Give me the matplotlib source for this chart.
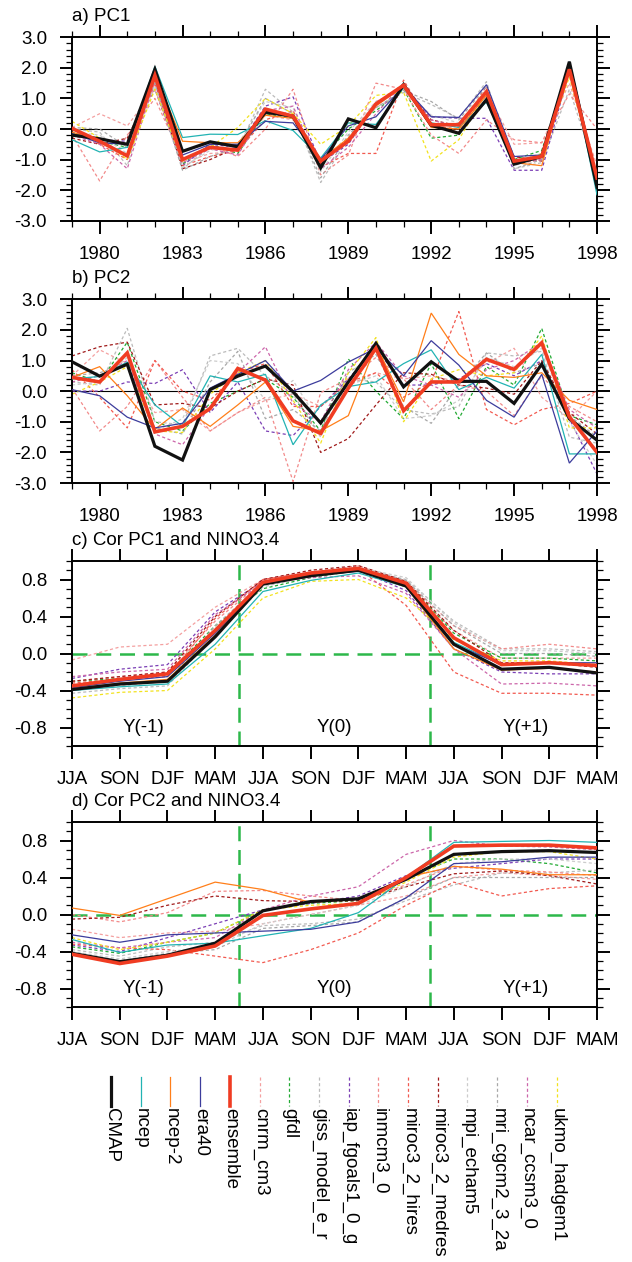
import matplotlib
matplotlib.use("Agg")
import matplotlib.pyplot as plt
from matplotlib.ticker import MultipleLocator, FixedLocator
import numpy as np

plt.rcParams['font.family'] = ['Liberation Sans', 'DejaVu Sans']

# ---------------- data ----------------
years = list(range(1979, 1999))
year_labels = [1980, 1983, 1986, 1989, 1992, 1995, 1998]
seasons = ["JJA", "SON", "DJF", "MAM", "JJA", "SON", "DJF", "MAM", "JJA", "SON", "DJF", "MAM"]
period_labels = ["Y(-1)", "Y(0)", "Y(+1)"]

names = ["CMAP", "ncep", "ncep-2", "era40", "ensemble", "cnrm_cm3", "gfdl",
         "giss_model_e_r", "iap_fgoals1_0_g", "inmcm3_0", "miroc3_2_hires",
         "miroc3_2_medres", "mpi_echam5", "mri_cgcm2_3_2a", "ncar_ccsm3_0",
         "ukmo_hadgem1"]

# panel a: PC1
pc1_cmap = [-0.2, -0.32, -0.5, 1.95, -0.73, -0.42, -0.58, 0.55, 0.42, -1.27, 0.33, 0.04, 1.45, 0.12, -0.14, 0.96, -1.15, -0.9, 2.2, -1.9]
pc1_ncep = [-0.35, -0.75, -0.6, 2.05, -0.28, -0.17, -0.18, 0.27, -0.05, -0.95, 0.2, 0.15, 1.35, 0.2, 0.05, 0.88, -1.05, -0.85, 2.2, -2.15]
pc1_ncep2 = [-0.1, -0.4, -0.9, 1.8, -0.4, -0.45, -0.45, 0.45, 0.35, -1.0, -0.3, 0.75, 1.4, 0.05, 0.0, 1.1, -1.1, -1.2, 2.1, -1.7]
pc1_era40 = [-0.15, -0.45, -0.5, 1.9, -0.85, -0.5, -0.5, 0.25, 0.2, -1.0, 0.1, 0.4, 1.4, 0.4, 0.38, 1.45, -0.9, -0.85, 2.2, -1.6]
pc1_ens = [0.02, -0.4, -0.88, 1.75, -1.0, -0.6, -0.69, 0.65, 0.42, -1.05, -0.4, 0.82, 1.43, 0.14, 0.14, 1.22, -1.05, -0.9, 1.95, -1.6]
pc1_cnrm = [0.05, 0.5, 0.1, 1.3, -1.1, -0.8, -0.75, 0.45, 0.3, -1.1, -0.3, 0.9, 1.3, 0.2, -0.1, 1.2, -0.5, -0.45, 1.5, -1.2]
pc1_gfdl = [-0.1, -0.4, -0.6, 1.6, -1.15, -0.5, -0.8, 0.5, 0.35, -1.0, 0.0, 0.6, 1.3, -0.3, -0.2, 1.0, -1.0, -0.7, 2.0, -1.7]
pc1_giss = [0.0, -0.1, -1.2, 1.8, -1.3, -0.6, -0.7, 1.3, 0.55, -1.75, -0.3, 0.7, 1.2, 0.8, 0.35, 1.55, -1.3, -1.1, 1.3, -1.5]
pc1_iap = [-0.1, -0.35, -0.4, 1.3, -1.2, -0.5, -0.6, 0.75, 1.05, -1.1, -0.5, 0.85, 1.3, 0.4, 0.35, 0.35, -1.35, -1.35, 1.9, -1.8]
pc1_inm = [-0.2, -1.7, -0.2, 1.0, -1.0, -0.55, -0.9, 0.0, 1.3, -1.5, -0.85, 1.5, 1.3, -0.2, -0.8, 0.3, -0.35, -0.45, 1.15, 0.0]
pc1_hires = [0.0, -0.5, -1.0, 1.5, -1.2, -0.9, -0.7, 0.3, 0.6, -1.25, -0.8, -0.8, 1.6, 0.1, 0.0, 1.4, -1.15, -1.0, 1.9, -1.5]
pc1_medres = [-0.3, -0.5, -0.3, 1.6, -1.3, -1.0, -0.6, 0.5, 0.45, -1.15, -0.3, 0.8, 1.4, 0.3, 0.1, 1.2, -0.9, -1.05, 2.0, -1.6]
pc1_mpi = [-0.1, -0.2, -0.8, 1.4, -1.25, -0.7, -0.5, 0.9, 0.7, -1.4, -0.1, 0.9, 1.3, 0.45, 0.2, 1.3, -1.2, -0.9, 1.8, -1.7]
pc1_mri = [0.05, 0.0, -0.6, 1.5, -1.35, -0.9, -0.6, 1.0, 0.5, -1.6, -0.2, 0.7, 1.25, 0.9, 0.3, 1.4, -1.3, -1.0, 2.1, -1.8]
pc1_ncar = [-0.2, -0.5, -1.3, 1.6, -1.1, -0.65, -0.85, 0.6, 0.75, -1.3, -0.6, 0.5, 1.5, 0.3, 0.05, 1.1, -1.1, -1.0, 2.0, -1.9]
pc1_ukmo = [0.25, -0.3, -1.0, 1.3, -1.05, -0.6, 0.05, 1.0, 0.5, -0.5, 0.1, 1.1, 1.2, -1.05, -0.35, 1.2, -1.1, -0.8, 1.7, -1.6]

# panel b: PC2
pc2_cmap = [0.96, 0.49, 0.88, -1.8, -2.25, 0.05, 0.49, 0.82, -0.02, -1.04, 0.3, 1.56, 0.14, 0.96, 0.32, 0.32, -0.4, 0.88, -0.9, -1.6]
pc2_ncep = [0.4, 0.48, 0.95, -0.45, -1.15, 0.5, 0.3, 0.55, -1.75, -0.45, 0.15, 0.3, 0.9, 1.35, 0.05, 0.45, 0.1, 1.2, -2.05, -2.05]
pc2_ncep2 = [0.45, 0.8, -0.15, -1.25, -0.55, -1.15, -0.45, 0.3, -1.15, -1.3, -0.8, 1.5, -0.35, 2.55, 1.2, 0.5, 0.45, 0.6, -0.3, -0.6]
pc2_era40 = [0.05, -0.15, -0.85, -1.2, -1.05, 0.1, 0.55, 1.0, 0.0, 0.35, 0.95, 1.4, 0.5, 1.65, 0.85, -0.3, -0.85, 0.55, -2.35, -1.3]
pc2_ens = [0.45, 0.3, 1.25, -1.33, -1.15, -0.57, 0.74, 0.36, -0.97, -1.38, 0.1, 1.4, -0.64, 0.3, 0.3, 1.04, 0.71, 1.58, -0.84, -2.0]
pc2_cnrm = [0.5, 1.35, 0.9, -0.7, -0.6, -1.3, -0.7, -0.3, -0.1, -0.5, 0.2, 0.6, 0.4, 0.5, 0.3, 0.9, 1.4, -0.2, -0.9, 0.0]
pc2_gfdl = [0.6, 0.3, 1.6, -1.0, -1.3, -0.4, 0.0, 0.4, -0.2, -1.3, 1.05, 0.0, -0.9, 0.9, -0.9, 0.8, 0.2, 2.05, -0.8, -1.1]
pc2_giss = [0.3, 0.2, 2.05, -1.0, -1.1, 1.15, 1.4, 0.5, -0.1, -1.5, 0.4, 0.3, -0.6, -0.75, -0.5, 1.25, 1.15, 1.3, -1.5, -1.7]
pc2_iap = [0.0, 0.0, 0.3, 0.25, 0.7, -0.7, 0.3, -1.3, -1.45, -0.5, 0.4, 1.4, 0.2, 0.2, 0.4, 0.9, 0.5, 1.0, -0.9, -2.7]
pc2_inm = [0.1, -1.3, -0.5, 1.0, -0.2, -1.3, -0.7, -0.2, -2.95, -0.05, 0.4, 1.1, 0.4, -0.6, 0.2, 0.0, -0.8, 0.5, -0.5, -1.0]
pc2_hires = [0.7, -0.2, -1.2, 1.0, 0.0, -0.3, 0.6, 0.9, -0.5, -0.5, 0.3, 0.6, -0.2, 0.3, 2.6, -0.6, -1.1, -0.6, -0.4, 0.0]
pc2_medres = [1.15, 1.45, 1.6, -0.45, -0.4, -0.55, 0.0, 0.4, 0.2, -2.0, -1.55, -0.45, 0.6, 0.55, 0.2, 0.1, -0.1, 1.0, -0.7, -1.4]
pc2_mpi = [0.2, 0.3, 1.1, -1.3, -0.9, 1.0, 0.9, -0.3, 0.35, -1.1, 0.2, 0.5, -0.9, -0.8, -0.3, 1.1, 0.8, 1.4, -1.0, -2.4]
pc2_mri = [0.5, 0.6, 0.9, -1.2, -1.4, 0.3, 1.3, -0.9, -0.6, -1.3, 0.6, 1.2, -0.5, -1.05, 0.2, 1.25, 0.6, 0.9, -0.8, -1.5]
pc2_ncar = [0.3, 0.5, 1.0, -1.4, -1.75, -0.5, 0.6, 1.45, -0.4, -1.0, 0.7, 1.6, 0.5, 0.2, -0.2, 0.7, 1.0, 1.6, -0.6, -1.2]
pc2_ukmo = [-0.1, 0.3, 0.8, -1.3, -1.35, -0.1, 0.6, 1.0, -0.3, -1.7, 0.6, 1.75, -1.0, 0.4, 0.7, 0.5, 0.6, 1.8, -1.2, -1.2]

# panel c: Cor PC1 and NINO3.4
c_cmap = [-0.39, -0.33, -0.3, 0.18, 0.75, 0.84, 0.9, 0.73, 0.1, -0.17, -0.15, -0.21]
c_ncep = [-0.4, -0.36, -0.33, 0.1, 0.67, 0.79, 0.87, 0.72, 0.12, -0.12, -0.1, -0.13]
c_ncep2 = [-0.38, -0.32, -0.28, 0.2, 0.75, 0.85, 0.9, 0.72, 0.05, -0.18, -0.16, -0.2]
c_era40 = [-0.37, -0.3, -0.25, 0.22, 0.76, 0.84, 0.89, 0.74, 0.1, -0.12, -0.1, -0.1]
c_ens = [-0.35, -0.28, -0.22, 0.25, 0.77, 0.87, 0.92, 0.76, 0.17, -0.12, -0.1, -0.13]
c_cnrm = [-0.07, 0.07, 0.1, 0.5, 0.8, 0.88, 0.93, 0.75, 0.25, -0.05, -0.05, -0.05]
c_gfdl = [-0.3, -0.27, -0.22, 0.3, 0.7, 0.82, 0.9, 0.78, 0.22, -0.05, -0.05, -0.08]
c_giss = [-0.43, -0.38, -0.35, 0.2, 0.72, 0.84, 0.92, 0.8, 0.35, 0.05, 0.05, 0.02]
c_iap = [-0.27, -0.17, -0.12, 0.45, 0.78, 0.86, 0.9, 0.68, 0.05, -0.2, -0.22, -0.22]
c_inm = [-0.3, -0.25, -0.2, 0.35, 0.78, 0.87, 0.95, 0.78, 0.3, 0.05, 0.1, 0.05]
c_hires = [-0.32, -0.28, -0.25, 0.38, 0.8, 0.88, 0.92, 0.52, -0.2, -0.43, -0.43, -0.45]
c_medres = [-0.3, -0.25, -0.2, 0.4, 0.8, 0.9, 0.95, 0.78, 0.25, -0.1, -0.1, -0.15]
c_mpi = [-0.4, -0.35, -0.3, 0.25, 0.75, 0.85, 0.93, 0.82, 0.33, 0.03, 0.03, 0.0]
c_mri = [-0.38, -0.33, -0.3, 0.3, 0.76, 0.86, 0.92, 0.79, 0.3, 0.0, 0.0, -0.03]
c_ncar = [-0.25, -0.2, -0.17, 0.42, 0.76, 0.82, 0.84, 0.65, 0.05, -0.33, -0.32, -0.35]
c_ukmo = [-0.48, -0.42, -0.4, 0.05, 0.6, 0.78, 0.8, 0.6, 0.15, -0.08, -0.08, -0.12]

# panel d: Cor PC2 and NINO3.4
d_cmap = [-0.42, -0.51, -0.44, -0.31, 0.04, 0.14, 0.17, 0.38, 0.65, 0.68, 0.69, 0.67]
d_ncep = [-0.27, -0.41, -0.33, -0.31, -0.23, -0.15, 0.02, 0.4, 0.78, 0.79, 0.8, 0.78]
d_ncep2 = [0.07, -0.01, 0.17, 0.35, 0.27, 0.13, 0.17, 0.4, 0.52, 0.49, 0.43, 0.43]
d_era40 = [-0.22, -0.3, -0.22, -0.2, -0.18, -0.16, -0.08, 0.18, 0.55, 0.57, 0.62, 0.62]
d_ens = [-0.43, -0.53, -0.45, -0.34, -0.01, 0.06, 0.12, 0.4, 0.74, 0.75, 0.75, 0.72]
d_cnrm = [-0.16, -0.25, -0.2, -0.18, -0.1, 0.0, 0.1, 0.2, 0.4, 0.45, 0.42, 0.38]
d_gfdl = [-0.35, -0.42, -0.3, -0.2, 0.05, 0.12, 0.15, 0.4, 0.6, 0.6, 0.55, 0.45]
d_giss = [-0.38, -0.45, -0.35, -0.3, -0.12, -0.1, -0.05, 0.15, 0.32, 0.45, 0.45, 0.48]
d_iap = [-0.33, -0.4, -0.25, -0.1, 0.05, 0.12, 0.2, 0.42, 0.5, 0.55, 0.6, 0.6]
d_inm = [0.0, -0.08, 0.02, 0.25, 0.26, 0.2, 0.15, 0.32, 0.52, 0.48, 0.46, 0.42]
d_hires = [-0.32, -0.36, -0.38, -0.45, -0.52, -0.38, -0.2, 0.1, 0.35, 0.2, 0.28, 0.31]
d_medres = [-0.05, -0.03, 0.1, 0.2, 0.15, 0.14, 0.15, 0.3, 0.44, 0.47, 0.42, 0.33]
d_mpi = [-0.4, -0.48, -0.4, -0.35, -0.1, 0.0, 0.1, 0.3, 0.55, 0.6, 0.6, 0.55]
d_mri = [-0.42, -0.5, -0.42, -0.38, -0.15, -0.12, -0.08, 0.18, 0.4, 0.4, 0.4, 0.4]
d_ncar = [-0.3, -0.36, -0.3, -0.25, 0.05, 0.2, 0.3, 0.65, 0.8, 0.74, 0.73, 0.7]
d_ukmo = [-0.25, -0.38, -0.3, -0.2, 0.05, 0.1, 0.12, 0.35, 0.62, 0.68, 0.68, 0.6]

# ---------------- styles ----------------
colors = {
    "CMAP": "#111111", "ncep": "#22B3B3", "ncep-2": "#FF7F1A", "era40": "#3C3C9C",
    "ensemble": "#F03C22", "cnrm_cm3": "#F4A0A0", "gfdl": "#22AA33",
    "giss_model_e_r": "#BBBBBB", "iap_fgoals1_0_g": "#7B3FB5", "inmcm3_0": "#F28A8A",
    "miroc3_2_hires": "#F25A50", "miroc3_2_medres": "#A01A1A", "mpi_echam5": "#CCCCCC",
    "mri_cgcm2_3_2a": "#A8A8A8", "ncar_ccsm3_0": "#CC66AA", "ukmo_hadgem1": "#F2E21E",
}
solid_names = ["CMAP", "ncep", "ncep-2", "era40", "ensemble"]
lws = {"CMAP": 2.3, "ensemble": 2.6}
green = "#2DB84A"

panel_a = [pc1_cmap, pc1_ncep, pc1_ncep2, pc1_era40, pc1_ens, pc1_cnrm, pc1_gfdl, pc1_giss, pc1_iap,
           pc1_inm, pc1_hires, pc1_medres, pc1_mpi, pc1_mri, pc1_ncar, pc1_ukmo]
panel_b = [pc2_cmap, pc2_ncep, pc2_ncep2, pc2_era40, pc2_ens, pc2_cnrm, pc2_gfdl, pc2_giss, pc2_iap,
           pc2_inm, pc2_hires, pc2_medres, pc2_mpi, pc2_mri, pc2_ncar, pc2_ukmo]
panel_c = [c_cmap, c_ncep, c_ncep2, c_era40, c_ens, c_cnrm, c_gfdl, c_giss, c_iap,
           c_inm, c_hires, c_medres, c_mpi, c_mri, c_ncar, c_ukmo]
panel_d = [d_cmap, d_ncep, d_ncep2, d_era40, d_ens, d_cnrm, d_gfdl, d_giss, d_iap,
           d_inm, d_hires, d_medres, d_mpi, d_mri, d_ncar, d_ukmo]

W, H = 632, 1262
fig = plt.figure(figsize=(W / 100, H / 100), dpi=100)
FS = 13.5


def rect(top_px, bot_px, left_px=72, right_px=597):
    return [left_px / W, 1 - bot_px / H, (right_px - left_px) / W, (bot_px - top_px) / H]


def draw_series(ax, x, series):
    order = list(range(5, 16)) + [1, 2, 3, 0, 4]
    for i in order:
        nm = names[i]
        if nm in solid_names:
            ax.plot(x, series[i], color=colors[nm], lw=lws.get(nm, 0.9), solid_joinstyle='miter',
                    zorder=3 + (i == 0) + 2 * (i == 4))
        else:
            ax.plot(x, series[i], color=colors[nm], lw=0.9, ls=(0, (2.5, 2.0)), zorder=2)


def style_axes(ax):
    for s in ax.spines.values():
        s.set_linewidth(1.4)
    ax.tick_params(which='both', direction='out', top=True, right=True,
                   labeltop=False, labelright=False, labelsize=FS, pad=9)
    ax.tick_params(which='major', length=9, width=1.4)
    ax.tick_params(which='minor', length=4.5, width=0.9)


def title(ax, txt):
    ax.annotate(txt, xy=(0, 1), xycoords='axes fraction', xytext=(0, 11.5),
                textcoords='offset points', ha='left', va='baseline', fontsize=FS)


# panels a, b
for series, tl, (t, b) in [(panel_a, "a) PC1", (37.3, 220.7)), (panel_b, "b) PC2", (299.3, 483.0))]:
    ax = fig.add_axes(rect(t, b))
    draw_series(ax, years, series)
    ax.axhline(0, color='black', lw=0.8, zorder=1)
    ax.set_xlim(years[0], years[-1])
    ax.set_ylim(-3, 3)
    ax.xaxis.set_major_locator(FixedLocator(year_labels))
    ax.set_xticklabels([str(y) for y in year_labels])
    ax.xaxis.set_minor_locator(FixedLocator(years))
    ax.yaxis.set_major_locator(MultipleLocator(1.0))
    ax.yaxis.set_minor_locator(MultipleLocator(0.2))
    ax.yaxis.set_major_formatter(matplotlib.ticker.FormatStrFormatter('%.1f'))
    style_axes(ax)
    title(ax, tl)

# panels c, d
xs = list(range(len(seasons)))
for series, tl, (t, b) in [(panel_c, "c) Cor PC1 and NINO3.4", (561.0, 746.0)),
                           (panel_d, "d) Cor PC2 and NINO3.4", (822.0, 1007.0))]:
    ax = fig.add_axes(rect(t, b))
    draw_series(ax, xs, series)
    ax.axhline(0, color=green, lw=1.8, ls=(0, (6, 3.5)), zorder=1)
    for xv in (3.5, 7.5):
        ax.axvline(xv, color=green, lw=1.8, ls=(0, (6, 3.5)), zorder=1)
    for lab, xv in zip(period_labels, (1.5, 5.5, 9.5)):
        ax.text(xv, -0.8, lab, ha='center', va='center', fontsize=FS)
    ax.set_xlim(0, 11)
    ax.set_ylim(-1, 1)
    ax.set_xticks(xs)
    ax.set_xticklabels(seasons)
    ax.yaxis.set_major_locator(FixedLocator([-0.8, -0.4, 0.0, 0.4, 0.8]))
    ax.yaxis.set_minor_locator(MultipleLocator(0.1))
    ax.yaxis.set_major_formatter(matplotlib.ticker.FormatStrFormatter('%.1f'))
    style_axes(ax)
    title(ax, tl)

# legend
lax = fig.add_axes([0, 0, 1, 1], facecolor='none')
lax.set_xlim(0, W)
lax.set_ylim(H, 0)
lax.axis('off')
for i, nm in enumerate(names):
    xl = 111 + 29.7 * i
    if nm in solid_names:
        lax.plot([xl, xl], [1077, 1106], color=colors[nm], lw=lws.get(nm, 0.9))
    else:
        lax.plot([xl, xl], [1077, 1106], color=colors[nm], lw=0.9, ls=(0, (2.5, 2.0)))
    lax.text(xl + 1, 1108, nm, rotation=270, ha='center', va='top', fontsize=FS)

fig.savefig("out.png", dpi=100)
